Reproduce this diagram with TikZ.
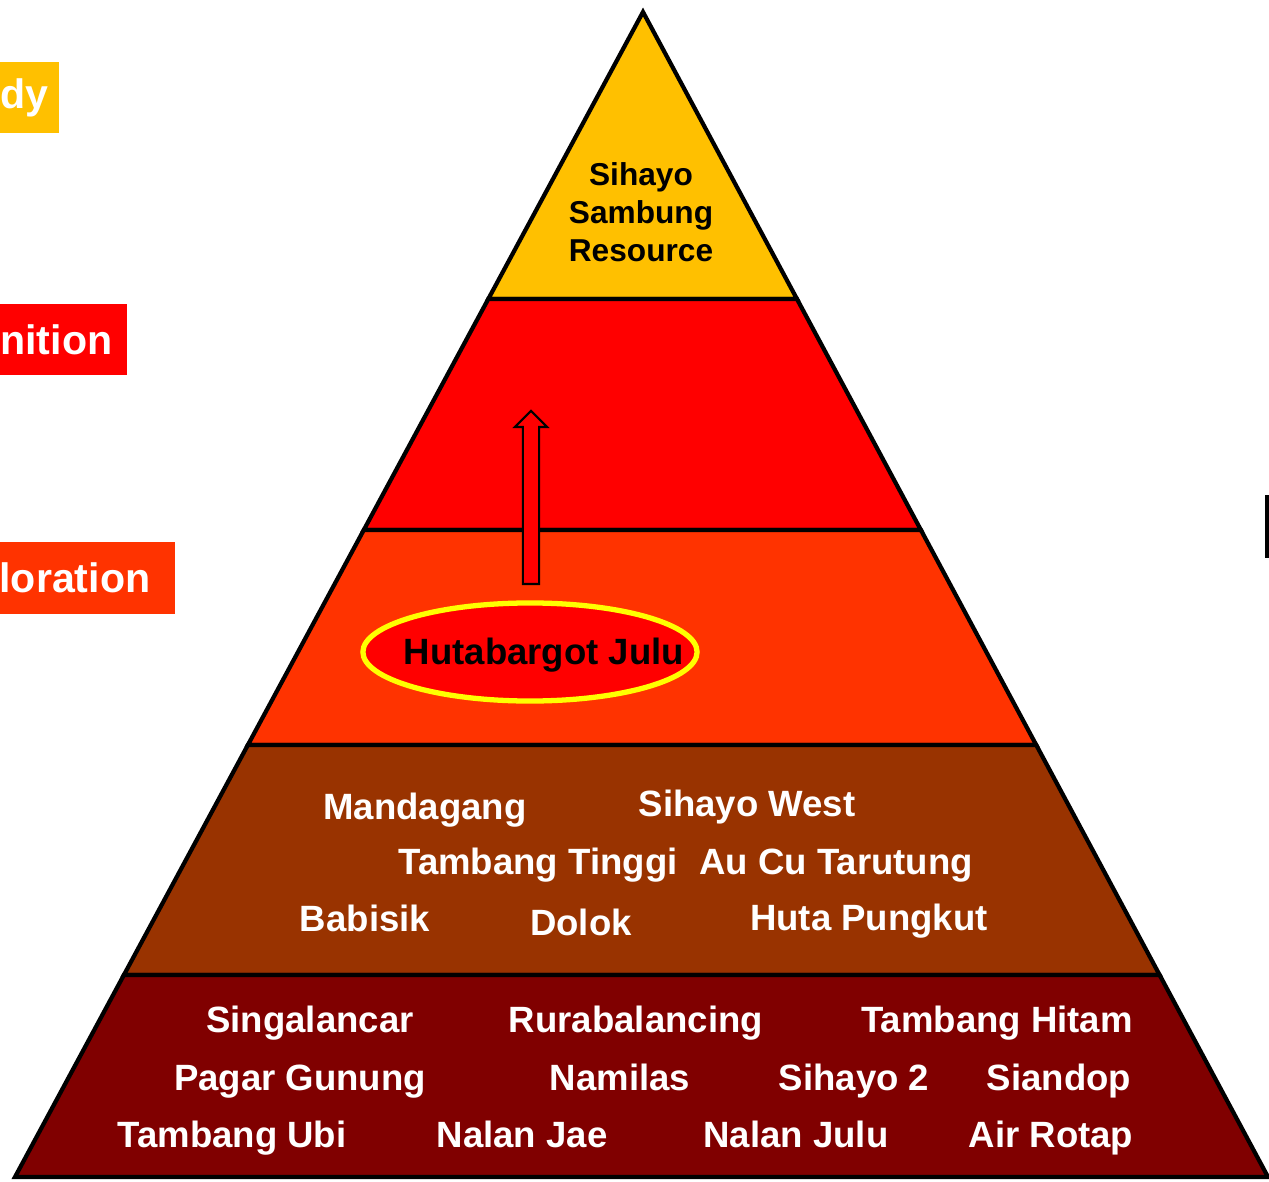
\documentclass[tikz,border=0pt]{standalone}
\usepackage{fontspec}
\setmainfont{Liberation Sans}
\usetikzlibrary{calc,shapes.geometric,shapes.arrows}
\definecolor{pyrgold}{HTML}{FFC000}
\definecolor{pyrred}{HTML}{FF0000}
\definecolor{pyrorange}{HTML}{FF3300}
\definecolor{pyrbrown}{HTML}{993300}
\definecolor{pyrmaroon}{HTML}{800000}
\definecolor{ringyellow}{HTML}{FFFF00}

\begin{document}
\begin{tikzpicture}[x=0.01cm,y=-0.01cm,
  band/.style={draw=black,line width=1.2pt},
  tag/.style={anchor=east,text=white,font=\fontsize{11.7}{14}\selectfont\bfseries,
    inner ysep=0pt,minimum height=0.71cm},
  site/.style={anchor=base,text=white,font=\fontsize{10.4}{12}\selectfont\bfseries,inner sep=0pt},
  topsite/.style={text=black,font=\fontsize{9}{10.8}\selectfont\bfseries,align=center,inner sep=0pt}]
\useasboundingbox (0,0) rectangle (1269,1182);
\coordinate (apex) at (643,12);
\coordinate (bl) at (15,1177);
\coordinate (br) at (1268,1177);
% pyramid bands, top to bottom
\foreach \ta/\tb/\col in {0/0.2464/pyrgold,0.2464/0.4446/pyrred,0.4446/0.6292/pyrorange,
  0.6292/0.8266/pyrbrown,0.8266/1/pyrmaroon}
  \filldraw[band,fill=\col] ($(apex)!\ta!(bl)$) -- ($(apex)!\tb!(bl)$)
    -- ($(apex)!\tb!(br)$) -- ($(apex)!\ta!(br)$) -- cycle;
% stage tags on the left
\node (study) [tag,fill=pyrgold,inner xsep=0.11cm] at (60,97.5) {dy};
\node (definition) [tag,fill=pyrred,inner xsep=0.15cm] at (128,339.5) {nition};
\node (exploration) [tag,fill=pyrorange,inner xsep=0.25cm] at (176,578) {loration};
\draw[line width=1pt] (1267,495) -- (1267,558);
% top
\node (resource) [topsite] at (641,212) {Sihayo\\Sambung\\Resource};
% promoted prospect
\node (hutaring) [ellipse,draw=ringyellow,line width=1.5pt,fill=pyrred,
  minimum width=3.34cm,minimum height=0.98cm] at (530,652) {};
\node (huta) [site,text=black] at (544,664) {Hutabargot Julu};
\node (promote) [single arrow,draw=black,line width=0.6pt,fill=pyrred,rotate=90,
  inner sep=0.07cm,minimum height=1.73cm,single arrow head extend=0.08cm,
  single arrow head indent=0pt] at (531,501.5) {};
% brown band
\node (mandagang) [site] at (425,819) {Mandagang};
\node (sihayowest) [site] at (747,816) {Sihayo West};
\node (tambangtinggi) [site] at (538,874) {Tambang Tinggi};
\node (aucu) [site] at (836,874) {Au Cu Tarutung};
\node (babisik) [site] at (365,931) {Babisik};
\node (dolok) [site] at (581,935) {Dolok};
\node (hutapungkut) [site] at (869,930) {Huta Pungkut};
% bottom band
\node (singalancar) [site] at (310,1032) {Singalancar};
\node (rurabalancing) [site] at (636,1032) {Rurabalancing};
\node (tambanghitam) [site] at (997,1032) {Tambang Hitam};
\node (pagargunung) [site] at (300,1090) {Pagar Gunung};
\node (namilas) [site] at (620,1090) {Namilas};
\node (sihayotwo) [site] at (854,1090) {Sihayo 2};
\node (siandop) [site] at (1059,1090) {Siandop};
\node (tambangubi) [site] at (232,1147) {Tambang Ubi};
\node (nalanjae) [site] at (522,1147) {Nalan Jae};
\node (nalanjulu) [site] at (796,1147) {Nalan Julu};
\node (airrotap) [site] at (1051,1147) {Air Rotap};
\end{tikzpicture}
\end{document}
